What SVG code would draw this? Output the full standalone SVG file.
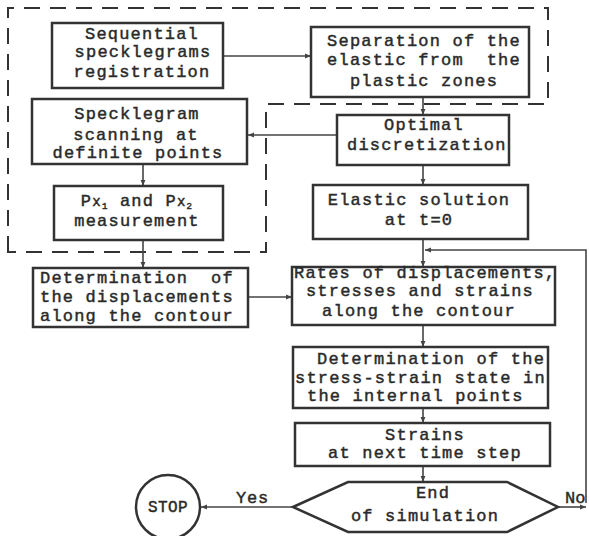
<svg xmlns="http://www.w3.org/2000/svg" width="589" height="536" viewBox="0 0 589 536">
<style>
.box{fill:#fff;stroke:#333;stroke-width:2.5}
.t{font-family:"Liberation Mono","Courier New",monospace;font-size:17px;letter-spacing:1.2px;fill:#2a2a2a;stroke:#2a2a2a;stroke-width:0.45}
.c{text-anchor:middle}
.ln{fill:none;stroke:#444;stroke-width:1.6}
.dash{fill:none;stroke:#333;stroke-width:2;stroke-dasharray:16 10}
</style>
<defs>
<marker id="ah" viewBox="0 0 10 10" refX="10" refY="5" markerWidth="8" markerHeight="6" orient="auto" markerUnits="userSpaceOnUse">
<path d="M0,1 L10,5 L0,9 Z" fill="#444"/>
</marker>
</defs>
<rect width="589" height="536" fill="#fff"/>
<path class="dash" d="M8,252 L8,8 L548,8 L548,104 L266,104 L266,252 Z"/>
<g id="connectors">
<line class="ln" x1="223" y1="56" x2="311" y2="56" marker-end="url(#ah)"/>
<line class="ln" x1="423" y1="97" x2="423" y2="115" marker-end="url(#ah)"/>
<line class="ln" x1="337" y1="135" x2="248" y2="135" marker-end="url(#ah)"/>
<line class="ln" x1="143" y1="164" x2="143" y2="186" marker-end="url(#ah)"/>
<line class="ln" x1="143" y1="240" x2="143" y2="268" marker-end="url(#ah)"/>
<line class="ln" x1="423" y1="165" x2="423" y2="185" marker-end="url(#ah)"/>
<line class="ln" x1="423" y1="239" x2="423" y2="267" marker-end="url(#ah)"/>
<line class="ln" x1="248" y1="297" x2="292" y2="297" marker-end="url(#ah)"/>
<line class="ln" x1="423" y1="325" x2="423" y2="347" marker-end="url(#ah)"/>
<line class="ln" x1="423" y1="408" x2="423" y2="423" marker-end="url(#ah)"/>
<line class="ln" x1="423" y1="466" x2="423" y2="482" marker-end="url(#ah)"/>
<line class="ln" x1="293" y1="507" x2="201" y2="507" marker-end="url(#ah)"/>
<line class="ln" x1="558" y1="507" x2="586" y2="507" marker-end="url(#ah)"/>
<polyline class="ln" points="586,503 586,250 425,250" marker-end="url(#ah)"/>
<text class="t" x="236" y="503" style="letter-spacing:0.8px">Yes</text>
<text class="t" x="565" y="503" style="letter-spacing:0px">No</text>
</g>
<g id="n1">
<rect class="box" x="52" y="23" width="171" height="65"/>
<text class="t c" x="142" y="39">Sequential</text>
<text class="t c" x="143" y="57">specklegrams</text>
<text class="t c" x="142" y="77">registration</text>
</g>
<g id="n2">
<rect class="box" x="311" y="27" width="218" height="70"/>
<text class="t c" x="424" y="46">Separation of the</text>
<text class="t c" x="424" y="65" xml:space="preserve">elastic from  the</text>
<text class="t c" x="424" y="86">plastic zones</text>
</g>
<g id="n3">
<rect class="box" x="32" y="99" width="215" height="65"/>
<text class="t c" x="137" y="119">Specklegram</text>
<text class="t c" x="136" y="140">scanning at</text>
<text class="t c" x="138" y="158">definite points</text>
</g>
<g id="n4">
<rect class="box" x="337" y="115" width="172" height="50"/>
<text class="t c" x="424" y="130">Optimal</text>
<text class="t" x="347" y="150">discretization</text>
</g>
<g id="n5">
<rect class="box" x="54" y="186" width="169" height="54"/>
<text class="t c" x="137" y="206">P<tspan font-size="14">x</tspan><tspan font-size="9" dy="3">1</tspan><tspan dy="-3"> and P</tspan><tspan font-size="14">x</tspan><tspan font-size="9" dy="3">2</tspan></text>
<text class="t c" x="137" y="226">measurement</text>
</g>
<g id="n6">
<rect class="box" x="313" y="185" width="215" height="54"/>
<text class="t c" x="419" y="205">Elastic solution</text>
<text class="t c" x="419" y="225">at t=0</text>
</g>
<g id="n7">
<rect class="box" x="33" y="268" width="215" height="59"/>
<text class="t" x="40" y="283" xml:space="preserve">Determination  of</text>
<text class="t" x="40" y="302">the displacements</text>
<text class="t" x="40" y="321">along the contour</text>
</g>
<g id="n8">
<rect class="box" x="292" y="267" width="263" height="58"/>
<text class="t" x="294" y="278">Rates of displacements,</text>
<text class="t c" x="420" y="296">stresses and strains</text>
<text class="t c" x="419" y="316">along the contour</text>
</g>
<g id="n9">
<rect class="box" x="293" y="347" width="255" height="61"/>
<text class="t" x="317" y="364">Determination of the</text>
<text class="t" x="295" y="383">stress-strain state in</text>
<text class="t" x="307" y="401">the internal points</text>
</g>
<g id="n10">
<rect class="box" x="295" y="423" width="255" height="43"/>
<text class="t c" x="425" y="440">Strains</text>
<text class="t c" x="425" y="458">at next time step</text>
</g>
<g id="n11">
<polygon class="box" points="293,507 348,482 507,482 558,507 507,532 348,532"/>
<text class="t c" x="433" y="498">End</text>
<text class="t c" x="425" y="521">of simulation</text>
</g>
<g id="n12">
<circle class="box" cx="168" cy="507" r="32"/>
<text class="t c" x="168" y="512" style="font-size:16px;letter-spacing:0.4px">STOP</text>
</g>
</svg>
